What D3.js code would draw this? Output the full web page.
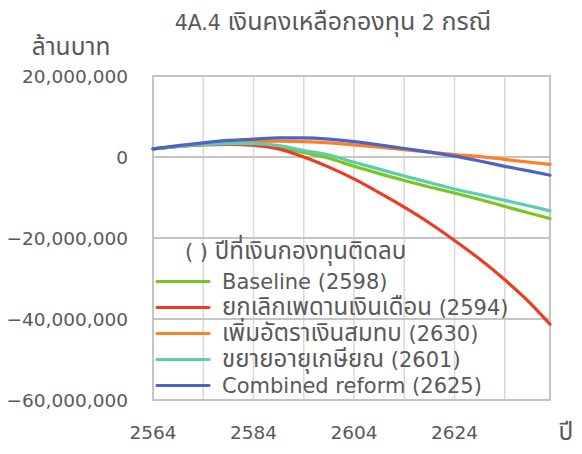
<!DOCTYPE html>
<html>
<head>
<meta charset="utf-8">
<script src="https://cdn.jsdelivr.net/npm/d3@7"></script>
<style>
  html, body { margin: 0; padding: 0; background: #ffffff; }
  svg { display: block; }
  text { font-family: "DejaVu Sans", "Noto Sans", "Noto Sans Thai", sans-serif; fill: #595959; }
</style>
</head>
<body>
<svg id="chart" width="582" height="454"></svg>
<script>
// Fund balance under five scenarios (values in millions of baht)
const years = [2564, 2569, 2574, 2579, 2584, 2589, 2594, 2599, 2604, 2609, 2614, 2619, 2624, 2629, 2634, 2639, 2643];

const baseline   = [2.0, 2.6, 3.1, 3.2, 3.0, 2.4, 1.1, -0.3, -2.3, -4.1, -5.8, -7.4, -8.9, -10.5, -12.2, -13.9, -15.2];
const removeCap  = [2.0, 2.6, 3.0, 3.1, 2.9, 2.0, 0.0, -2.5, -5.4, -8.8, -12.4, -16.3, -20.6, -25.2, -30.3, -36.0, -41.3];
const raiseRate  = [2.0, 2.6, 3.1, 3.5, 3.8, 3.9, 3.8, 3.5, 3.0, 2.4, 1.8, 1.2, 0.6, 0.1, -0.6, -1.3, -1.8];
const extendAge  = [2.0, 2.6, 3.1, 3.3, 3.3, 2.8, 1.6, 0.5, -1.3, -3.0, -4.7, -6.3, -7.9, -9.3, -10.7, -12.1, -13.3];
const combined   = [2.0, 2.8, 3.5, 4.1, 4.4, 4.7, 4.7, 4.4, 3.8, 3.0, 2.1, 1.2, 0.2, -1.0, -2.3, -3.5, -4.5];

const seriesNames = [
  "Baseline (2598)",
  "ยกเลิกเพดานเงินเดือน (2594)",
  "เพิ่มอัตราเงินสมทบ (2630)",
  "ขยายอายุเกษียณ (2601)",
  "Combined reform (2625)"
];
const seriesValues = [baseline, removeCap, raiseRate, extendAge, combined];
const seriesColors = ["#79c61c", "#ec3d22", "#ff7f24", "#58cfae", "#4e63c9"];

const yTicks = [20000000, 0, -20000000, -40000000, -60000000];
const xTickLabels = [2564, 2584, 2604, 2624];
const xGridYears = [2574, 2584, 2594, 2604, 2614, 2624, 2634];

const title = "4A.4 เงินคงเหลือกองทุน 2 กรณี";
const yAxisTitle = "ล้านบาท";
const xAxisTitle = "ปี";
const legendTitle = "( ) ปีที่เงินกองทุนติดลบ";
const UNIT = 1000000;

const svg = d3.select("#chart");
const plot = { left: 153, right: 550, top: 76, bottom: 400 };

const x = d3.scaleLinear().domain([2564, 2643]).range([plot.left, plot.right]);
const y = d3.scaleLinear().domain([-60000000, 20000000]).range([plot.bottom, plot.top]);

// Thai glyphs come from a fallback face that runs small, so Thai runs get a larger size
function mixedText(sel, str, latinSize, thaiSize) {
  const runs = str.match(/[\u0E00-\u0E7F]+|[^\u0E00-\u0E7F]+/g) || [];
  runs.forEach(r => {
    const thai = /[\u0E00-\u0E7F]/.test(r);
    sel.append("tspan")
      .style("font-size", (thai ? thaiSize : latinSize) + "px")
      .text(r);
  });
}

// vertical gridlines
svg.append("g")
  .selectAll("line")
  .data(xGridYears)
  .join("line")
  .attr("x1", d => x(d)).attr("x2", d => x(d))
  .attr("y1", plot.top).attr("y2", plot.bottom)
  .attr("stroke", "#d9d9d9").attr("stroke-width", 1.5);

// horizontal gridlines
svg.append("g")
  .selectAll("line")
  .data(yTicks)
  .join("line")
  .attr("x1", plot.left).attr("x2", plot.right)
  .attr("y1", d => y(d)).attr("y2", d => y(d))
  .attr("stroke", "#c4c4c4").attr("stroke-width", 2);

// plot border
svg.append("rect")
  .attr("x", plot.left).attr("y", plot.top)
  .attr("width", plot.right - plot.left).attr("height", plot.bottom - plot.top)
  .attr("fill", "none").attr("stroke", "#c4c4c4").attr("stroke-width", 2);

// y-axis tick labels
const fmt = d3.format(",");
svg.append("g")
  .selectAll("text")
  .data(yTicks)
  .join("text")
  .attr("x", 128).attr("y", d => y(d) + 7)
  .attr("text-anchor", "end")
  .style("font-size", "18.5px")
  .text(d => fmt(d));

// x-axis tick labels
svg.append("g")
  .selectAll("text")
  .data(xTickLabels)
  .join("text")
  .attr("x", d => x(d)).attr("y", 439)
  .attr("text-anchor", "middle")
  .style("font-size", "18.5px")
  .text(d => d);

// titles
const tTitle = svg.append("text").attr("x", 333).attr("y", 30).attr("text-anchor", "middle");
mixedText(tTitle, title, 20.5, 25);
const tY = svg.append("text").attr("x", 71).attr("y", 55).attr("text-anchor", "middle");
mixedText(tY, yAxisTitle, 20, 24.5);
const tX = svg.append("text").attr("x", 566).attr("y", 440).attr("text-anchor", "middle");
mixedText(tX, xAxisTitle, 20, 24.5);

// series lines
const line = d3.line()
  .x((d, i) => x(years[i]))
  .y(d => y(d * UNIT))
  .curve(d3.curveMonotoneX);

svg.append("g")
  .selectAll("path")
  .data(seriesValues)
  .join("path")
  .attr("d", d => line(d))
  .attr("fill", "none")
  .attr("stroke", (d, i) => seriesColors[i])
  .attr("stroke-width", 3.2)
  .attr("stroke-linejoin", "round")
  .attr("stroke-linecap", "round");

// legend
const legend = svg.append("g");
const lt = legend.append("text").attr("x", 185).attr("y", 259);
mixedText(lt, legendTitle, 21, 24);

const rows = legend.selectAll("g.row")
  .data(seriesNames)
  .join("g")
  .attr("class", "row")
  .attr("transform", (d, i) => `translate(0, ${281.5 + i * 26})`);
rows.append("line")
  .attr("x1", 157).attr("x2", 209).attr("y1", 0).attr("y2", 0)
  .attr("stroke", (d, i) => seriesColors[i]).attr("stroke-width", 3.2)
  .attr("stroke-linecap", "round");
rows.append("text")
  .attr("x", 222).attr("y", 7)
  .each(function (d) { mixedText(d3.select(this), d, 21, 24); });
</script>
</body>
</html>
